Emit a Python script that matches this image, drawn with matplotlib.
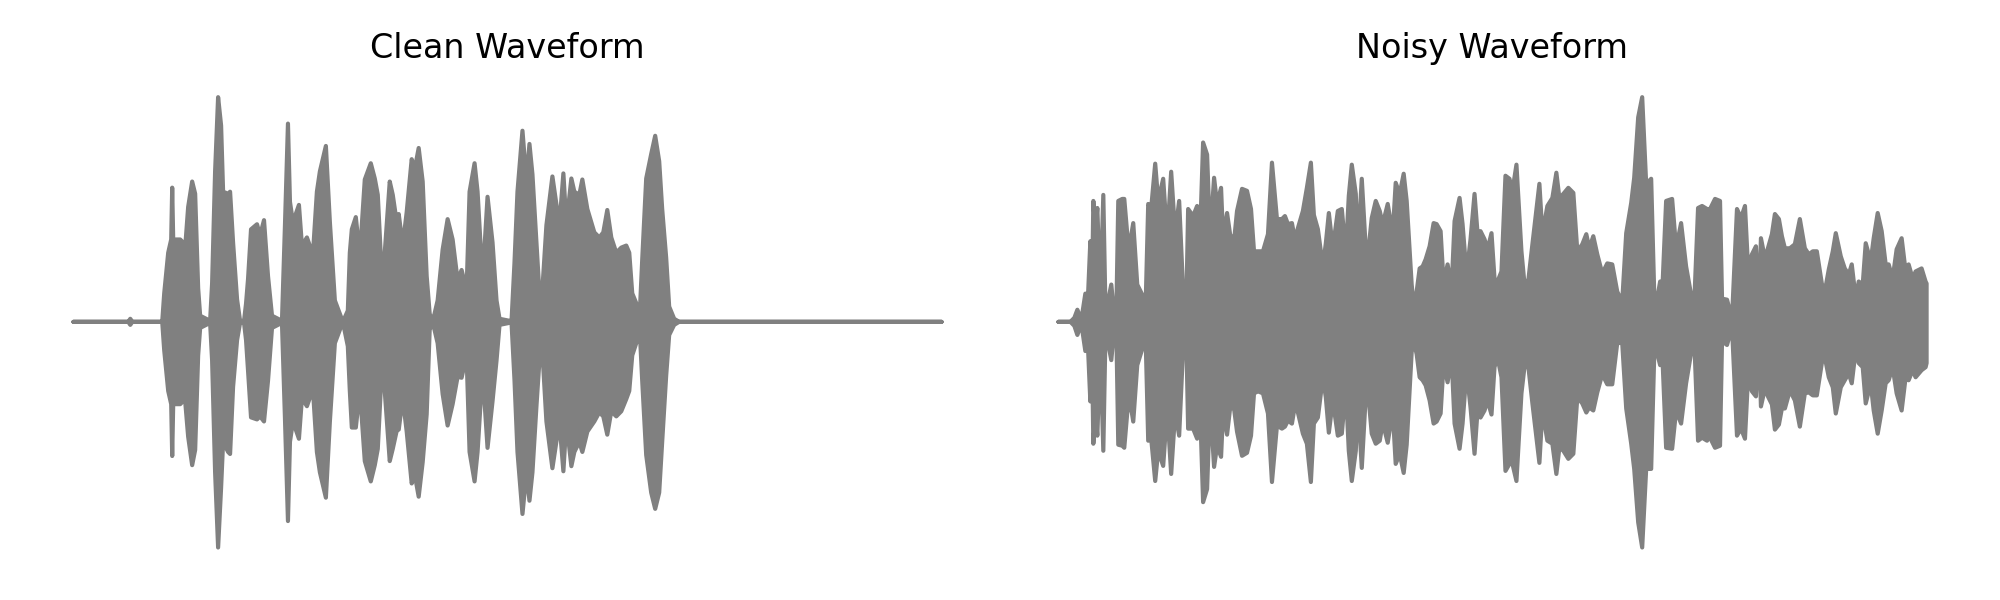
import numpy as np
import matplotlib
matplotlib.use("Agg")
import matplotlib.pyplot as plt

# envelope of each waveform: frame index (5 ms hop), peak upper / lower amplitude (x1e-3)
clean_frames = [0, 55, 57, 59, 89, 91, 95, 98, 99, 100, 107, 110, 112, 115, 119, 122, 125, 127, 137,
                139, 142, 145, 148, 150, 155, 157, 160, 164, 167, 171, 173, 175, 178, 184, 187, 191, 195,
                199, 209, 212, 215, 217, 220, 226, 229, 234, 240, 244, 247, 253, 257, 262, 270, 275, 277,
                279, 283, 287, 292, 298, 302, 305, 309, 312, 317, 320, 324, 326, 330, 334, 339, 342, 346,
                350, 354, 357, 360, 365, 370, 375, 380, 385, 389, 394, 397, 402, 405, 410, 415, 420, 424,
                427, 437, 439, 442, 445, 450, 454, 457, 460, 464, 467, 469, 471, 474, 480, 487, 491, 494,
                499, 502, 507, 510, 515, 522, 527, 531, 535, 539, 544, 549, 554, 557, 560, 565, 568, 570,
                574, 579, 583, 587, 590, 594, 597, 602, 607, 870]
clean_upper = [0, 0, 3, 0, 0, 28, 68, 81, 132, 81, 81, 78, 73, 113, 138, 126, 33, 6, 1,
               38, 148, 221, 193, 128, 126, 128, 78, 22, 1, 1, 18, 42, 91, 96, 85, 100, 45,
               6, 1, 95, 195, 118, 98, 115, 75, 83, 66, 128, 148, 173, 98, 21, 0, 11, 68,
               91, 103, 65, 140, 156, 141, 125, 46, 68, 138, 125, 98, 106, 75, 108, 160, 150, 171,
               138, 45, 8, 0, 21, 71, 101, 81, 41, 51, 31, 128, 156, 128, 41, 123, 78, 21,
               3, 1, 0, 58, 128, 188, 138, 175, 145, 78, 28, 18, 48, 95, 143, 95, 146, 96,
               141, 128, 125, 140, 111, 88, 83, 88, 110, 83, 68, 73, 75, 68, 28, 16, 18, 61,
               141, 165, 183, 158, 111, 63, 15, 3, 0, 0]
clean_lower = [0, 0, -3, 0, 0, -28, -68, -81, -132, -81, -81, -78, -78, -113, -141, -126, -33, -6, -1,
               -38, -148, -222, -163, -118, -128, -130, -64, -18, -1, -1, -18, -48, -94, -96, -93, -98, -58,
               -6, -1, -95, -196, -118, -98, -115, -75, -83, -66, -128, -148, -173, -98, -21, 0, -24, -68,
               -104, -104, -67, -137, -157, -141, -125, -47, -68, -137, -125, -107, -106, -75, -108, -159, -150, -172,
               -138, -91, -8, 0, -21, -71, -102, -81, -54, -55, -33, -128, -157, -128, -48, -124, -78, -38,
               -3, -1, 0, -57, -128, -189, -148, -176, -148, -83, -38, -23, -47, -98, -144, -98, -147, -98,
               -142, -128, -118, -128, -108, -98, -89, -93, -111, -88, -93, -88, -76, -68, -33, -18, -18, -58,
               -131, -168, -184, -168, -118, -53, -13, -3, 0, 0]

noisy_frames = [0, 12, 16, 19, 23, 27, 29, 32, 34, 35, 37, 39, 42, 45, 47, 49, 53, 56, 58, 60, 64, 66,
                69, 72, 75, 79, 84, 87, 90, 93, 97, 100, 105, 109, 113, 117, 121, 125, 128, 130, 135,
                139, 142, 145, 149, 152, 156, 159, 163, 165, 169, 172, 176, 179, 184, 189, 193, 196,
                200, 205, 210, 214, 219, 224, 227, 230, 234, 237, 240, 245, 249, 253, 256, 260, 265,
                268, 271, 275, 280, 284, 288, 291, 294, 298, 300, 304, 309, 314, 318, 322, 325, 330,
                335, 338, 342, 346, 349, 354, 356, 359, 362, 365, 368, 372, 376, 379, 383, 386, 390,
                394, 397, 402, 405, 409, 413, 417, 420, 423, 427, 430, 434, 437, 440, 444, 448, 452,
                455, 459, 464, 467, 471, 475, 482, 485, 490, 495, 499, 502, 506, 511, 516, 520, 525,
                529, 532, 536, 540, 545, 550, 555, 560, 565, 569, 574, 577, 581, 585, 589, 594, 597,
                600, 603, 605, 609, 615, 619, 624, 629, 634, 637, 641, 645, 650, 652, 658, 663, 665,
                670, 675, 680, 684, 688, 691, 695, 699, 702, 704, 708, 711, 715, 718, 722, 725, 728,
                733, 738, 743, 748, 752, 756, 760, 765, 768, 772, 776, 779, 784, 788, 792, 795, 799,
                802, 806, 809, 814, 817, 821, 825, 829, 832, 836, 840, 845, 849, 852, 856, 859, 865,
                869, 870]
noisy_upper = [0, 0, 4, 12, 2, 28, 10, 80, 50, 120, 90, 113, 23, 126, 20, 17, 37, 5, 5, 120, 122, 122,
               87, 80, 98, 37, 27, 0, 117, 113, 157, 120, 142, 83, 149, 87, 120, 30, 7, 112, 105,
               115, 87, 178, 166, 83, 143, 117, 133, 83, 108, 87, 80, 110, 132, 130, 112, 70,
               70, 70, 87, 158, 102, 102, 105, 97, 98, 82, 93, 110, 133, 158, 106, 92, 55,
               78, 108, 73, 110, 112, 67, 125, 156, 127, 70, 142, 55, 103, 120, 110, 97, 117,
               87, 138, 127, 147, 120, 37, 17, 30, 53, 55, 62, 75, 98, 97, 90, 38, 57,
               33, 100, 123, 97, 47, 82, 127, 88, 90, 82, 72, 88, 43, 40, 50, 145, 142,
               130, 156, 70, 38, 42, 77, 137, 87, 115, 123, 148, 123, 127, 133, 128, 70, 77,
               87, 73, 85, 67, 48, 58, 57, 30, 20, 88, 118, 143, 203, 223, 137, 142, 30,
               23, 40, 27, 120, 122, 73, 98, 55, 27, 14, 113, 115, 112, 110, 122, 120, 23,
               22, 3, 112, 103, 115, 55, 67, 75, 13, 83, 63, 73, 87, 107, 102, 85, 73,
               73, 77, 102, 73, 67, 70, 70, 38, 30, 52, 70, 88, 65, 53, 47, 57, 23,
               40, 37, 78, 60, 83, 108, 90, 57, 57, 43, 72, 83, 50, 57, 43, 50, 53,
               40, 38]
noisy_lower = [0, 0, -4, -13, -2, -29, -10, -79, -50, -121, -90, -113, -23, -128, -20, -17, -38, -5, -5, -122, -123, -125,
               -90, -80, -99, -43, -27, 0, -118, -116, -158, -128, -143, -86, -151, -89, -113, -25, -7, -106, -106,
               -116, -86, -179, -166, -79, -144, -123, -134, -89, -112, -86, -86, -109, -133, -130, -113, -71,
               -69, -71, -91, -159, -103, -106, -104, -98, -101, -83, -90, -111, -121, -159, -101, -95, -55,
               -75, -110, -78, -113, -111, -65, -128, -158, -128, -75, -145, -55, -111, -121, -118, -100, -120,
               -88, -141, -131, -150, -122, -30, -19, -32, -55, -58, -63, -78, -101, -99, -91, -41, -60,
               -35, -101, -126, -101, -48, -85, -131, -88, -95, -88, -78, -92, -45, -35, -55, -148, -141,
               -141, -158, -71, -45, -45, -81, -140, -88, -118, -121, -151, -125, -128, -136, -131, -75, -81,
               -90, -85, -88, -70, -52, -62, -62, -21, -21, -86, -121, -146, -199, -224, -146, -146, -35,
               -31, -43, -28, -125, -126, -88, -101, -61, -31, -13, -118, -115, -118, -113, -125, -123, -19,
               -23, -5, -113, -106, -116, -56, -69, -74, -14, -84, -66, -74, -82, -107, -102, -86, -86,
               -68, -78, -104, -71, -70, -73, -73, -41, -35, -55, -65, -91, -65, -58, -51, -61, -28,
               -41, -45, -81, -61, -88, -111, -88, -61, -58, -45, -71, -88, -55, -58, -48, -55, -48,
               -45, -41]

hop = 0.005
panels = [("Clean Waveform", clean_frames, clean_upper, clean_lower),
          ("Noisy Waveform", noisy_frames, noisy_upper, noisy_lower)]

fig, axes = plt.subplots(1, 2, figsize=(10, 3))
for ax, (title, frames, upper, lower) in zip(axes, panels):
    t = np.array(frames) * hop
    hi = np.array(upper) / 1000.0
    lo = np.array(lower) / 1000.0
    ax.fill(np.concatenate([t, t[::-1]]), np.concatenate([hi, lo[::-1]]),
            color="gray", lw=1.5, joinstyle="round")
    ax.set_title(title)
    ax.axis("off")

plt.tight_layout()
fig.savefig("out.png", dpi=200)
